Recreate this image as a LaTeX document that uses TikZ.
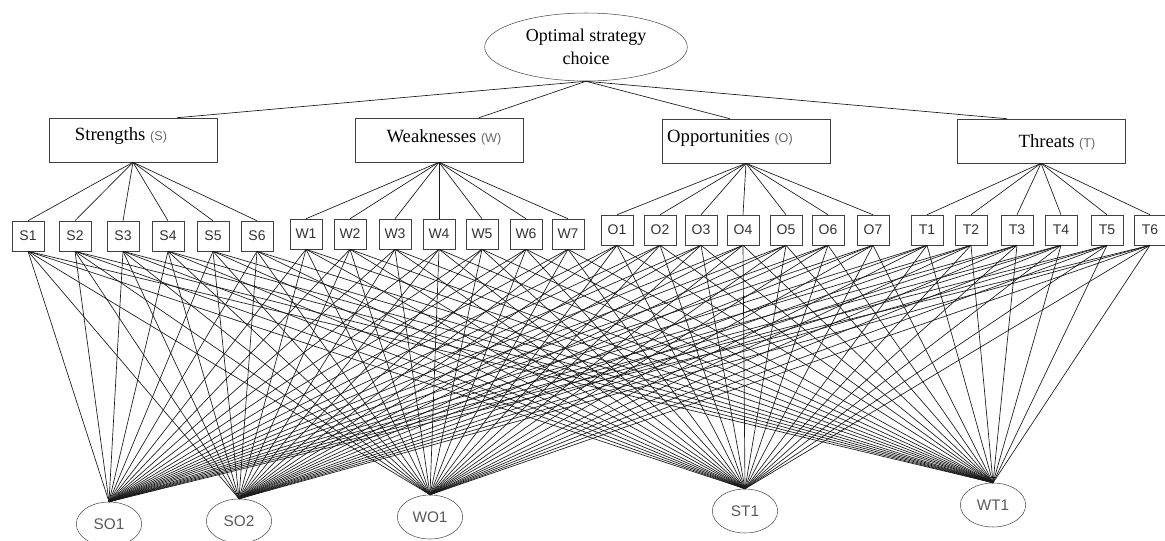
\documentclass[tikz,border=0pt]{standalone}
\usepackage{fontspec}
\setmainfont{Liberation Serif}
\setsansfont{Liberation Sans}
\usepackage{xcolor}
\usetikzlibrary{shapes.geometric, positioning, calc}
\tikzset{
    goal/.style={ellipse, draw=black!70, minimum width=152pt, minimum height=51pt, inner sep=0pt, align=center, font=\fontsize{13.5}{17}\selectfont},
    factor/.style={rectangle, draw=black!75, minimum width=126pt, minimum height=33pt},
    factorlabel/.style={inner sep=0pt, font=\fontsize{14}{16}\selectfont},
    item/.style={rectangle, draw=black!75, minimum width=24pt, minimum height=22.5pt, inner sep=0pt, text=black!80, font=\sffamily\fontsize{10.5}{12}\selectfont},
    strategy/.style={ellipse, draw=black!70, minimum width=49pt, minimum height=33pt, inner sep=0pt, text=black!65, font=\sffamily\fontsize{11.5}{13}\selectfont},
    link/.style={black!90, line width=0.5pt}
}
\newcommand{\abbr}[1]{{\sffamily\fontsize{9.5}{11}\selectfont\color{black!60}#1}}

\begin{document}
\begin{tikzpicture}[x=0.75pt, y=-0.75pt]
    \useasboundingbox (0,0) rectangle (1165,540);

    % top goal and the four factors
    \node (goal) [goal] at (586,47) {Optimal strategy\\choice};
    \node (str) [factor] at (133,140) {};
    \node (wea) [factor] at (439,140) {};
    \node (opp) [factor] at (746,141) {};
    \node (thr) [factor] at (1041,141) {};
    \node (strlabel) [factorlabel] at ($(str)+(-12,-4)$) {Strengths \abbr{(S)}};
    \node (wealabel) [factorlabel] at ($(wea)+(5,-3)$) {Weaknesses \abbr{(W)}};
    \node (opplabel) [factorlabel] at ($(opp)+(-16,-3)$) {Opportunities \abbr{(O)}};
    \node (thrlabel) [factorlabel] at ($(thr)+(16,1)$) {Threats \abbr{(T)}};

    \draw[link] (goal.south) -- ($(str.north)+(44,0)$);
    \draw[link] (goal.south) -- ($(wea.north)+(40,0)$);
    \draw[link] (goal.south) -- ($(opp.north)+(-16,0)$);
    \draw[link] (goal.south) -- ($(thr.north)+(-34,0)$);

    % sub-factors
    \foreach \x [count=\i] in {28,75,123,168,213,257}
        \node (s\i) [item] at (\x,236) {S\i};
    \foreach \x [count=\i] in {306,350,395,439,482,526,568}
        \node (w\i) [item] at (\x,234) {W\i};
    \foreach \x [count=\i] in {617,660,701,743,786,828,873}
        \node (o\i) [item] at (\x,230) {O\i};
    \foreach \x [count=\i] in {927,971,1017,1061,1107,1150}
        \node (t\i) [item] at (\x,230) {T\i};

    \foreach \p/\c/\n in {str/s/6, wea/w/7, opp/o/7, thr/t/6}
        \foreach \i in {1,...,\n}
            \draw[link] (\p.south) -- (\c\i.north);

    % strategies
    \node (so1) [strategy] at (109,524) {SO1};
    \node (so2) [strategy] at (239,521) {SO2};
    \node (wo1) [strategy] at (430,517) {WO1};
    \node (st1) [strategy] at (745,511) {ST1};
    \node (wt1) [strategy] at (993,505) {WT1};

    \foreach \c/\n in {s/6, w/7, o/7, t/6}
        \foreach \i in {1,...,\n}
            \foreach \g in {so1,so2,wo1,st1,wt1}
                \draw[link] (\c\i.south) -- (\g.north);
\end{tikzpicture}
\end{document}
